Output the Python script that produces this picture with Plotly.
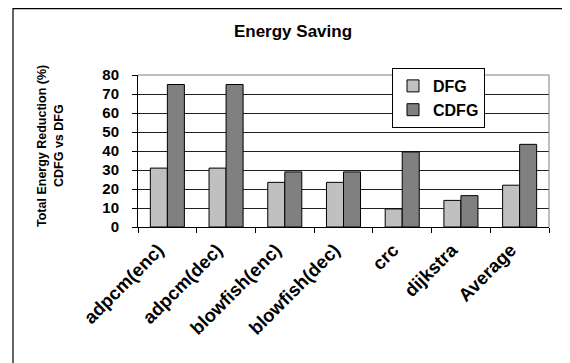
import plotly.graph_objects as go

categories = ["adpcm(enc)", "adpcm(dec)", "blowfish(enc)", "blowfish(dec)", "crc", "dijkstra", "Average"]
dfg = [31, 31, 23.5, 23.5, 9.5, 14, 22]
cdfg = [75, 75, 29, 29, 39.5, 16.5, 43.5]
y_ticks = [0, 10, 20, 30, 40, 50, 60, 70, 80]

FONT = "Liberation Sans, Arial, sans-serif"

fig = go.Figure()
fig.add_trace(go.Bar(name="DFG", x=categories, y=dfg,
                     marker=dict(color="#c0c0c0", line=dict(color="black", width=1))))
fig.add_trace(go.Bar(name="CDFG", x=categories, y=cdfg,
                     marker=dict(color="#808080", line=dict(color="black", width=1))))

OFF = 8  # default page body margin
W, H = 570 - OFF, 363 - OFF
L, R, T, B = 130, 21, 67, 136
pw, ph = W - L - R, H - T - B

def px_x(x):  # x in screenshot pixels -> paper
    return (x - OFF - L) / pw

def px_y(y):
    return (H - B - (y - OFF)) / ph

fig.update_layout(
    width=W, height=H,
    margin=dict(l=L, r=R, t=T, b=B, pad=0, autoexpand=False),
    paper_bgcolor="white", plot_bgcolor="white",
    barmode="group", bargap=0.42, bargroupgap=0,
    font=dict(family=FONT, color="black", size=14, weight="bold"),
    title=dict(text="Energy Saving", x=(293 - OFF) / W, xanchor="center",
               y=1 - (31 - OFF) / H, yanchor="middle",
               font=dict(family=FONT, size=17, weight="bold", color="black")),
    legend=dict(x=px_x(438.5), y=px_y(98), xanchor="center", yanchor="middle",
                bgcolor="white", bordercolor="black", borderwidth=1,
                font=dict(family=FONT, size=16, weight="bold"),
                itemwidth=30),
    showlegend=True,
)

fig.update_xaxes(
    type="category", tickangle=-45, tickson="boundaries",
    ticks="outside", ticklen=5, tickcolor="black",
    ticklabelstandoff=4, ticklabelshift=-9,
    showline=True, linecolor="black", linewidth=1, automargin=False,
    showgrid=False, tickfont=dict(family=FONT, size=18.5, weight="bold"),
)
fig.update_yaxes(
    range=[0, 80], tickvals=y_ticks, ticks="outside", ticklen=5, tickcolor="black",
    ticklabelstandoff=10,
    showline=True, linecolor="black", linewidth=1, automargin=False,
    showgrid=True, gridcolor="#202020", gridwidth=1,
    zeroline=False, tickfont=dict(family=FONT, size=15, weight="bold"),
)

# plot-area border (gray) top and right
fig.add_shape(type="line", xref="paper", yref="paper", x0=0, x1=1, y0=1, y1=1,
              line=dict(color="#808080", width=1))
fig.add_shape(type="line", xref="paper", yref="paper", x0=1, x1=1, y0=0, y1=1,
              line=dict(color="#808080", width=1))

# outer chart border
fig.add_shape(type="rect", xref="paper", yref="paper",
              x0=px_x(13), x1=px_x(600), y0=px_y(8.6), y1=px_y(400),
              line=dict(color="black", width=1.2), layer="above")

for text, xc in [("Total Energy Reduction (%)", 42), ("CDFG vs DFG", 59)]:
    fig.add_annotation(text=text, xref="paper", yref="paper", x=px_x(xc), y=px_y(146),
                       xanchor="center", yanchor="middle", textangle=-90, showarrow=False,
                       font=dict(family=FONT, size=12.5, weight="bold", color="black"))

fig.write_html("out.html")
